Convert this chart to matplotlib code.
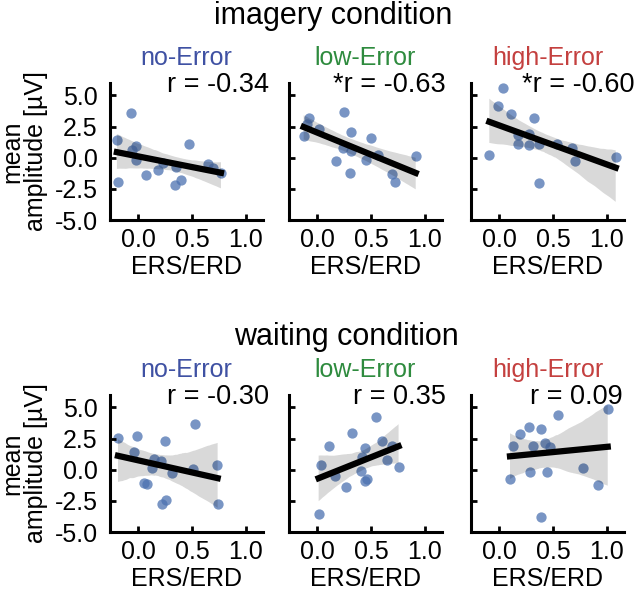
import matplotlib
matplotlib.use("Agg")
import matplotlib.pyplot as plt
import numpy as np
import seaborn as sns

plt.rcParams['font.family'] = ['Liberation Sans', 'DejaVu Sans']
plt.rcParams['axes.unicode_minus'] = False

# ERS/ERD (x) vs mean amplitude (y)
img_no_x = [-0.196, -0.062, -0.016, -0.056, -0.016, -0.186, 0.071, 0.186, 0.233, 0.357, 0.342, 0.398, 0.472, 0.652, 0.699, 0.770]
img_no_y = [1.42, 3.58, 0.97, 0.60, -0.20, -1.96, -1.42, -1.02, -0.40, -0.75, -2.15, -1.77, 1.10, -0.48, -0.80, -1.20]

img_low_x = [-0.124, -0.071, -0.093, 0.022, 0.255, 0.320, 0.242, 0.311, 0.180, 0.304, 0.503, 0.450, 0.565, 0.699, 0.720, 0.916]
img_low_y = [1.75, 3.15, 2.69, 2.34, 3.68, 2.04, 0.81, 0.54, -0.27, -1.24, 1.61, -0.22, 0.19, -1.29, -1.94, 0.16]

img_high_x = [-0.090, -0.012, 0.034, 0.111, 0.173, 0.179, 0.281, 0.281, 0.327, 0.367, 0.373, 0.534, 0.676, 0.707, 1.083]
img_high_y = [0.22, 4.17, 5.56, 3.49, 1.83, 1.13, 1.02, 1.88, 3.17, 1.13, -2.04, 1.13, 0.75, -0.27, 0.08]

wait_no_x = [-0.186, -0.009, 0.248, 0.528, -0.040, 0.146, 0.211, 0.130, 0.317, 0.506, 0.730, 0.056, 0.087, 0.224, 0.264, 0.739]
wait_no_y = [2.55, 2.69, 2.34, 3.71, 1.40, 0.89, 0.73, 0.13, -0.24, 0.05, 0.38, -1.10, -1.13, -2.74, -2.47, -2.74]

wait_low_x = [0.015, 0.040, 0.114, 0.170, 0.271, 0.323, 0.421, 0.443, 0.409, 0.446, 0.468, 0.548, 0.603, 0.652, 0.692, 0.757]
wait_low_y = [-3.58, 0.35, 1.94, -0.48, -1.37, 2.98, 1.02, 1.75, -0.13, -0.89, -0.73, 4.25, 2.28, 0.75, 1.94, 0.24]

wait_high_x = [0.102, 0.127, 0.198, 0.276, 0.287, 0.319, 0.393, 0.430, 0.446, 0.474, 0.390, 0.548, 0.776, 0.917, 1.009]
wait_high_y = [-0.75, 1.88, 2.90, 3.44, -0.19, 1.88, 3.23, 2.12, -0.19, 1.83, -3.76, 4.38, 0.13, -1.24, 4.89]

conditions = ['imagery condition', 'waiting condition']
groups = ['no-Error', 'low-Error', 'high-Error']
group_colors = ['#3f51a3', '#2e8b3e', '#c4403f']
r_labels = [['r = -0.34', '*r = -0.63', '*r = -0.60'],
            ['r = -0.30', 'r = 0.35', 'r = 0.09']]
data = [[(img_no_x, img_no_y), (img_low_x, img_low_y), (img_high_x, img_high_y)],
        [(wait_no_x, wait_no_y), (wait_low_x, wait_low_y), (wait_high_x, wait_high_y)]]

W, H = 638, 598
fig = plt.figure(figsize=(W / 100, H / 100), dpi=100)

col_left = [110, 289, 471]
col_w = 153
row_top = [83, 395]
row_h = 137
title_x = [333, 346]
title_y = [24, 345]
r_x = [[1.04, 1.026, 1.066], [1.04, 1.026, 0.993]]

for i in range(2):
    fig.text(title_x[i] / W, 1 - title_y[i] / H, conditions[i], fontsize=22,
             ha='center', va='baseline')
    for j in range(3):
        ax = fig.add_axes([col_left[j] / W, 1 - (row_top[i] + row_h) / H,
                           col_w / W, row_h / H])
        x, y = data[i][j]
        sns.regplot(x=np.array(x), y=np.array(y), ax=ax, ci=95, seed=3,
                    scatter_kws={'s': 55, 'color': '#4c72b0', 'alpha': 0.75, 'linewidths': 0},
                    line_kws={'color': 'black', 'linewidth': 4.5})
        ax.set_xlim(-0.26, 1.16)
        ax.set_ylim(-5, 6)
        ax.set_xticks([0.0, 0.5, 1.0])
        ax.set_xticklabels(['0.0', '0.5', '1.0'])
        ax.set_yticks([-5, -2.5, 0, 2.5, 5])
        if j == 0:
            ax.set_yticklabels(['-5.0', '-2.5', '0.0', '2.5', '5.0'])
        else:
            ax.set_yticklabels([])
        for side in ['top', 'right']:
            ax.spines[side].set_visible(False)
        for side in ['left', 'bottom']:
            ax.spines[side].set_linewidth(2.2)
        ax.tick_params(axis='both', direction='in', length=4, width=2, labelsize=18)
        ax.tick_params(axis='x', pad=6)
        ax.tick_params(axis='y', pad=9)
        ax.set_xlabel('ERS/ERD', fontsize=18, labelpad=2)
        ax.set_title(groups[j], color=group_colors[j], fontsize=18, pad=13)
        ax.text(r_x[i][j], 0.935, r_labels[i][j], transform=ax.transAxes,
                fontsize=19.5, ha='right', va='baseline')
    fig.text(24 / W, 1 - (row_top[i] + row_h / 2) / H, 'mean\namplitude [µV]',
             rotation=90, fontsize=18, ha='center', va='center',
             multialignment='center', linespacing=0.95)

fig.savefig('out.png', dpi=100)
